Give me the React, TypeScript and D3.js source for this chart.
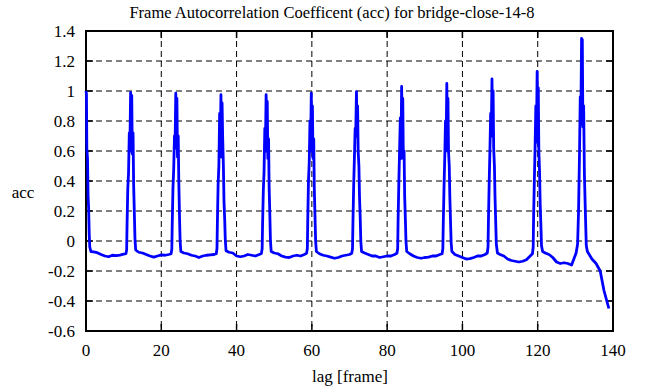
import React, { useRef, useEffect } from 'react';
import * as d3 from 'd3';

// [lag, acc] samples, one array per 12-frame cycle
const cycle0: [number, number][] = [
  [0, 1.0], [0.12, 0.98], [0.22, 0.62], [0.4, 0.55], [0.55, 0.3], [0.7, 0.22], [0.85, 0.05], [1.0, -0.04],
  [1.3, -0.07], [2, -0.072], [3, -0.078], [4, -0.09], [5, -0.1], [6, -0.105], [7, -0.095], [8, -0.098],
  [9, -0.094], [10, -0.088], [10.6, -0.085],
];
const cycle1: [number, number][] = [
  [10.8, -0.06], [10.9, 0.1], [11.1, 0.35], [11.3, 0.45], [11.5, 0.72], [11.65, 0.6], [11.85, 0.99],
  [12.0, 0.82], [12.15, 0.97], [12.3, 0.58], [12.5, 0.72], [12.65, 0.38], [12.85, 0.18], [13.0, 0.02],
  [13.2, -0.06], [14, -0.075], [15, -0.08], [16, -0.09], [17, -0.1], [18, -0.108], [19, -0.1], [20, -0.092],
  [21, -0.095], [22, -0.09], [22.6, -0.085],
];
const cycle2: [number, number][] = [
  [22.8, -0.055], [22.9, 0.1], [23.1, 0.35], [23.3, 0.48], [23.5, 0.7], [23.65, 0.62], [23.85, 0.985],
  [24.0, 0.8], [24.15, 0.95], [24.3, 0.56], [24.5, 0.7], [24.65, 0.4], [24.85, 0.15], [25.0, 0.0],
  [25.2, -0.07], [26, -0.08], [27, -0.085], [28, -0.095], [29, -0.1], [30, -0.11], [31, -0.1], [32, -0.095],
  [33, -0.092], [34, -0.09], [34.6, -0.085],
];
const cycle3: [number, number][] = [
  [34.8, -0.05], [34.9, 0.12], [35.1, 0.38], [35.3, 0.5], [35.5, 0.85], [35.65, 0.6], [35.85, 0.975],
  [36.0, 0.56], [36.15, 0.92], [36.3, 0.7], [36.5, 0.5], [36.65, 0.27], [36.85, 0.14], [37.0, 0.01],
  [37.2, -0.065], [38, -0.075], [39, -0.08], [40, -0.1], [41, -0.105], [42, -0.1], [43, -0.09], [44, -0.095],
  [45, -0.1], [46, -0.09], [46.6, -0.083],
];
const cycle4: [number, number][] = [
  [46.8, -0.05], [46.9, 0.1], [47.1, 0.33], [47.3, 0.46], [47.5, 0.75], [47.65, 0.6], [47.85, 0.975],
  [48.0, 0.78], [48.15, 0.93], [48.3, 0.55], [48.5, 0.68], [48.65, 0.36], [48.85, 0.16], [49.0, 0.0],
  [49.2, -0.07], [50, -0.08], [51, -0.085], [52, -0.1], [53, -0.108], [54, -0.11], [55, -0.1], [56, -0.095],
  [57, -0.1], [58, -0.09], [58.6, -0.082],
];
const cycle5: [number, number][] = [
  [58.8, -0.05], [58.9, 0.12], [59.1, 0.4], [59.3, 0.52], [59.5, 0.8], [59.65, 0.6], [59.85, 0.985],
  [60.0, 0.62], [60.15, 0.9], [60.3, 0.55], [60.5, 0.68], [60.65, 0.35], [60.85, 0.15], [61.0, 0.0],
  [61.2, -0.07], [62, -0.085], [63, -0.095], [64, -0.1], [65, -0.108], [66, -0.115], [67, -0.11], [68, -0.1],
  [69, -0.095], [70, -0.09], [70.6, -0.082],
];
const cycle6: [number, number][] = [
  [70.8, -0.05], [70.9, 0.1], [71.1, 0.36], [71.3, 0.55], [71.5, 0.75], [71.65, 0.7], [71.85, 0.995],
  [72.0, 0.75], [72.15, 0.9], [72.3, 0.6], [72.5, 0.5], [72.65, 0.3], [72.85, 0.15], [73.0, 0.0],
  [73.2, -0.07], [74, -0.08], [75, -0.09], [76, -0.1], [77, -0.1], [78, -0.11], [79, -0.105], [80, -0.1],
  [81, -0.1], [82, -0.09], [82.6, -0.082],
];
const cycle7: [number, number][] = [
  [82.8, -0.05], [82.9, 0.12], [83.1, 0.38], [83.3, 0.6], [83.5, 0.82], [83.65, 0.55], [83.85, 1.03],
  [84.0, 0.7], [84.15, 0.95], [84.3, 0.55], [84.5, 0.6], [84.65, 0.3], [84.85, 0.14], [85.0, 0.0],
  [85.2, -0.07], [86, -0.085], [87, -0.1], [88, -0.11], [89, -0.115], [90, -0.11], [91, -0.108], [92, -0.1],
  [93, -0.1], [94, -0.09], [94.6, -0.085],
];
const cycle8: [number, number][] = [
  [94.8, -0.05], [94.9, 0.1], [95.1, 0.35], [95.3, 0.55], [95.5, 0.8], [95.65, 0.6], [95.85, 1.05],
  [96.0, 0.72], [96.15, 0.95], [96.3, 0.6], [96.5, 0.5], [96.65, 0.3], [96.85, 0.12], [97.0, -0.01],
  [97.2, -0.07], [98, -0.09], [99, -0.1], [100, -0.11], [101, -0.12], [102, -0.118], [103, -0.11],
  [104, -0.1], [105, -0.1], [106, -0.09], [106.6, -0.08],
];
const cycle9: [number, number][] = [
  [106.8, -0.04], [106.9, 0.12], [107.1, 0.38], [107.3, 0.6], [107.5, 0.85], [107.65, 0.7], [107.85, 1.08],
  [108.0, 0.8], [108.15, 1.0], [108.3, 0.62], [108.5, 0.5], [108.65, 0.3], [108.85, 0.12], [109.0, -0.02],
  [109.3, -0.08], [110, -0.09], [111, -0.1], [112, -0.12], [113, -0.13], [114, -0.135], [115, -0.14],
  [116, -0.135], [117, -0.125], [118, -0.1], [118.6, -0.085],
];
const cycle10: [number, number][] = [
  [118.8, -0.04], [118.9, 0.15], [119.1, 0.4], [119.3, 0.62], [119.5, 0.9], [119.65, 0.66], [119.85, 1.13],
  [120.0, 0.85], [120.15, 1.02], [120.3, 0.6], [120.5, 0.45], [120.65, 0.25], [120.85, 0.1], [121.0, -0.03],
  [121.3, -0.07], [122, -0.08], [123, -0.09], [124, -0.11], [125, -0.14], [126, -0.15], [127, -0.145],
  [128, -0.15], [129, -0.16], [129.6, -0.12], [130.2, -0.08],
];
const cycle11: [number, number][] = [
  [130.6, -0.02], [130.85, 0.2], [131.1, 0.58], [131.3, 0.96], [131.45, 0.78], [131.65, 1.35], [131.85, 1.34],
  [132.0, 0.76], [132.2, 0.9], [132.4, 0.45], [132.65, 0.2], [132.9, -0.03], [133.2, -0.07], [134.4, -0.12],
  [135.5, -0.15], [136.6, -0.2], [137.6, -0.33], [138.9, -0.45],
];

const xTicks = [0, 20, 40, 60, 80, 100, 120, 140];
const yTicks = [-0.6, -0.4, -0.2, 0, 0.2, 0.4, 0.6, 0.8, 1, 1.2, 1.4];

const titleText = 'Frame Autocorrelation Coefficent (acc) for bridge-close-14-8';
const xLabel = 'lag [frame]';
const yLabel = 'acc';

const W = 661;
const H = 387;
const FONT = 'Liberation Serif, Tinos, Times New Roman, DejaVu Serif, serif';

const App = () => {
  const ref = useRef<SVGSVGElement>(null);

  useEffect(() => {
    const svg = d3.select(ref.current);
    svg.selectAll('*').remove();

    const left = 86, right = 613, top = 31, bottom = 331;
    const x = d3.scaleLinear().domain([0, 140]).range([left, right]);
    const y = d3.scaleLinear().domain([-0.6, 1.4]).range([bottom, top]);

    const data = [
      ...cycle0, ...cycle1, ...cycle2, ...cycle3, ...cycle4, ...cycle5,
      ...cycle6, ...cycle7, ...cycle8, ...cycle9, ...cycle10, ...cycle11,
    ];

    svg.append('rect').attr('width', W).attr('height', H).attr('fill', '#fff');

    // grid
    const grid = svg.append('g').attr('stroke', '#000').attr('stroke-width', 1).attr('stroke-dasharray', '6,4');
    xTicks.slice(1, -1).forEach(t => {
      grid.append('line').attr('x1', x(t)).attr('x2', x(t)).attr('y1', top).attr('y2', bottom);
    });
    yTicks.slice(1, -1).forEach(t => {
      grid.append('line').attr('x1', left).attr('x2', right).attr('y1', y(t)).attr('y2', y(t));
    });

    // inward ticks on all sides
    const tk = 7;
    const ticks = svg.append('g').attr('stroke', '#000').attr('stroke-width', 1.5);
    xTicks.forEach(t => {
      ticks.append('line').attr('x1', x(t)).attr('x2', x(t)).attr('y1', bottom).attr('y2', bottom - tk);
      ticks.append('line').attr('x1', x(t)).attr('x2', x(t)).attr('y1', top).attr('y2', top + tk);
    });
    yTicks.forEach(t => {
      ticks.append('line').attr('x1', left).attr('x2', left + tk).attr('y1', y(t)).attr('y2', y(t));
      ticks.append('line').attr('x1', right).attr('x2', right - tk).attr('y1', y(t)).attr('y2', y(t));
    });

    // border
    svg.append('rect')
      .attr('x', left).attr('y', top)
      .attr('width', right - left).attr('height', bottom - top)
      .attr('fill', 'none').attr('stroke', '#000').attr('stroke-width', 2);

    // series
    const line = d3.line<[number, number]>().x(d => x(d[0])).y(d => y(d[1]));
    svg.append('path')
      .datum(data)
      .attr('d', line)
      .attr('fill', 'none')
      .attr('stroke', '#0000ff')
      .attr('stroke-width', 2.8)
      .attr('stroke-linejoin', 'round');

    // text helper, serif like the original gnuplot output
    const label = (tx: number, ty: number, s: string, anchor: string, size = 17) =>
      svg.append('text')
        .attr('x', tx).attr('y', ty)
        .attr('text-anchor', anchor)
        .style('font-family', FONT)
        .style('font-size', `${size}px`)
        .attr('fill', '#000')
        .text(s);

    xTicks.forEach(t => label(x(t), 356, String(t), 'middle'));
    yTicks.forEach(t => label(75, y(t) + 6, String(+t.toFixed(1)), 'end'));

    label(350, 382, xLabel, 'middle');
    label(23, 198, yLabel, 'middle');
    label(332, 18, titleText, 'middle', 16.5);
  }, []);

  return (
    <svg ref={ref} width={W} height={H} style={{ position: 'absolute', left: 0, top: 0 }}></svg>
  );
};

export default App;
